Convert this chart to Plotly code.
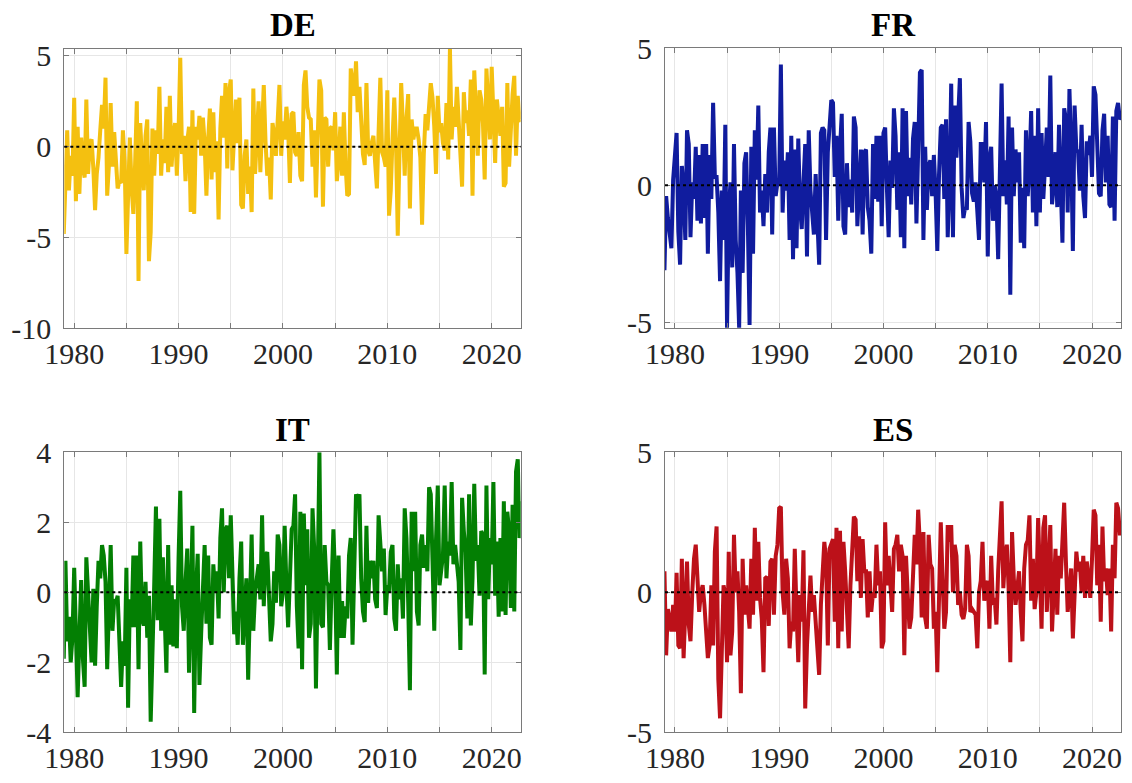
import pandas as pd
import plotly.graph_objects as go
from plotly.subplots import make_subplots

# bimonthly observation dates, Jan 1979 .. Nov 2022
dates = pd.date_range("1979-01-01", periods=264, freq="2MS")

de_values = [
    -4.8, -1.0, 0.9, -2.4, -0.5, -1.6, 2.7, -3.0, 1.1, -2.6,
    0.5, -1.2, -1.7, 2.6, -1.5, 0.2, 0.4, -1.2, -3.5, -1.5,
    -0.6, 0.9, 2.3, 1.0, 3.8, -2.7, -1.0, 2.4, -1.1, 0.8,
    -1.0, -2.3, -1.9, -2.0, 0.9, -0.8, -5.9, -1.5, 0.5, -2.2,
    -3.7, -1.0, 2.5, -7.4, 1.3, -0.8, -2.4, 0.6, 1.5, -6.3,
    -4.7, 1.0, -1.6, 0.9, -0.4, 3.3, -1.6, 0.4, -0.9, 2.2,
    -1.4, 2.8, -1.1, 0.6, 1.3, -1.6, 0.9, 4.9, -0.4, 0.6,
    -1.9, 0.3, 1.1, -3.6, 2.0, -3.7, 1.1, 0.4, 1.7, -0.5,
    1.6, 0.2, -2.7, 0.4, 2.1, -1.8, 1.9, -1.4, 0.3, -4.0,
    1.0, 2.8, 0.5, 3.5, -1.2, 3.0, 3.7, -1.3, 0.8, 2.6,
    0.2, 2.7, -3.2, -3.4, -0.5, 0.4, -2.6, -1.1, -3.6, 3.2,
    -1.5, 0.9, 2.5, -1.4, 1.6, 3.4, 0.3, -1.6, -0.6, -2.9,
    1.3, 0.7, -0.5, 1.1, 3.4, -0.5, 1.4, 0.4, 2.2, 1.0,
    -2.0, 1.8, 1.9, -0.3, -0.5, 0.8, -1.6, -1.9, 3.4, 4.2,
    2.2, 1.6, 1.5, -1.1, 0.9, -2.8, 0.7, 3.7, 3.1, -3.3,
    1.6, 1.5, -1.1, 1.0, 1.1, -0.2, 1.9, -1.9, -0.8, 1.1,
    -1.6, 1.9, -1.0, -2.7, -2.6, 4.3, 3.5, 2.8, 4.7, 1.9,
    3.3, 1.0, -0.4, -1.0, 3.5, -0.2, -0.5, 0.2, 0.6, -0.9,
    -2.3, 0.8, 3.8, -0.3, -0.6, -1.1, 3.1, -3.8, -2.4, 0.4,
    2.7, 0.2, -4.9, -0.5, 3.5, 1.1, -1.6, 1.5, 2.9, -3.4,
    1.5, 0.4, 1.0, 1.0, 0.4, -0.6, -4.3, -0.4, 1.8, 0.9,
    2.0, 3.5, 2.7, 1.1, -1.5, 2.8, 0.8, 1.3, 0.2, -0.2,
    2.4, -0.7, 5.4, 0.4, 2.2, 1.1, 3.3, 1.1, -0.8, -2.2,
    3.0, 1.3, 2.0, 0.6, 3.7, -2.7, 4.2, 1.1, -0.5, 3.1,
    2.6, 1.3, -1.8, 4.3, 1.7, 0.4, 4.4, 1.7, -0.9, 2.6,
    1.3, 0.6, 2.2, -2.2, -2.0, 3.5, -1.1, 1.3, 2.9, 3.9,
    -0.5, 2.8, 1.5, 1.4,
]

fr_values = [
    -3.1, -0.4, -1.2, -1.8, -2.3, 0.2, 1.4, 1.9, -1.7, -2.9,
    0.7, -0.2, -2.0, 2.0, 1.5, -1.9, 0.1, -0.5, 1.4, -1.3,
    1.1, -1.4, 1.5, -1.2, 1.5, -2.5, 1.1, -0.5, 3.0, 0.3,
    0.3, -1.0, -3.5, -0.2, -2.0, 2.2, -5.2, -1.0, 0.1, -3.0,
    1.5, -2.0, -3.2, -5.2, -0.2, -3.2, 0.8, 1.2, -1.5, -5.1,
    1.4, -2.5, 2.0, 0.2, 2.9, -1.0, -0.2, -1.5, 0.4, -1.0,
    1.2, 2.1, -1.8, 2.1, -0.4, 0.1, 0.0, 4.4, -1.0, 0.9,
    -0.2, 1.2, -2.0, 1.8, -2.7, 1.3, -2.3, 1.7, -0.8, -1.6,
    0.1, 1.5, -2.6, 2.0, -0.2, -1.0, -1.8, 0.4, -1.3, -2.9,
    1.9, 2.1, 2.0, -2.0, 1.2, 2.2, 3.1, 3.0, 0.3, 1.8,
    -1.3, 1.3, 2.6, -1.5, -1.8, 0.8, -0.8, 0.2, -1.0, 2.5,
    2.1, -1.5, -0.2, 1.3, -1.8, 1.2,
    1.3, -0.8, -1.3, -2.5, 1.5, -0.5, 1.8, -0.6, 1.8, -1.5,
    1.9, 2.1, -0.1, -1.9, 0.9, -0.1, 2.8, 1.8, -0.9, 1.2,
    -1.9, 2.8, -2.3, 2.7, -0.4, 1.0, -0.7, 1.7, 2.3, -1.4,
    1.3, 4.1, 4.2, -2.0, 1.4, -0.9, 0.7, 0.9, -0.4, 1.1,
    -0.3, -2.4, 0.4, 2.1, 2.2, -0.5, 2.4, -1.9, 0.0, 3.7,
    -1.9, 2.9, 1.0, 2.7, 3.9, -0.1, -1.2, -0.8, -0.9, 2.3,
    1.6, -0.3, -0.6, 0.1, -0.8, -2.0, 1.5, 1.5, 0.1, 2.3,
    -2.6, 0.9, 1.4, -1.3, 0.0, -0.5, -2.7, 1.2, 3.7, -0.4,
    0.9, -0.7, 2.5, -4.0, 2.1, -0.4, 1.3, 0.1, 1.2, -2.1,
    -0.1, -2.3, 2.0, -0.4, 0.7, 2.7, -1.0, 1.8, -1.5, 2.8,
    -1.0, 1.9, -0.5, 0.7, 2.1, 0.3, 4.0, -0.7, 0.0, 1.2,
    -0.8, 2.2, -0.1, -2.1, 2.8, 2.4, -1.0, 3.5, 1.3, -2.4,
    2.9, 1.3, 1.2, -0.2, 2.2, -0.4, -1.2, 1.6, 1.1, 1.8,
    0.3, 3.6, 3.3, 0.8, -0.3, -0.4, 2.0, 2.6, 0.1, 1.8,
    -0.7, -0.8, 2.5, -1.3, 2.7, 3.0, 2.4, 2.5,
]

it_values = [
    -1.9, 0.9, -1.4, -0.7, -2.0, -1.3, 0.7, -1.5, -3.0, -1.3,
    0.35, -1.9, -2.7, 1.0, -0.2, -1.1, -2.0, 0.1, -2.1, -0.4,
    0.9, 0.4, 1.35, 1.05, 0.3, -2.2, 0.2, 1.35, -1.1, -0.2,
    -0.3, -0.1, -1.4, -2.7, -1.4, -2.1, 0.7, -3.3, -0.2, -1.0,
    1.05, -1.0, 1.05, -2.2, 1.45, -0.75, -0.95, 0.3, -1.3, -0.1,
    -3.7, -1.1, 0.2, 2.45, -0.8, 2.1, -1.1, 1.0, -1.3, -2.3,
    1.35, -1.5, 0.2, -1.55, -0.2, -1.6, 1.0, 2.9, -0.4, -1.1,
    0.3, 1.25, -2.3, -0.1, 1.9, -3.45, 0.0, 1.1, -2.65, -1.2,
    0.3, 1.35, -0.9, 1.05, -1.3, -1.5, 0.8, 0.0, 0.6, -0.75,
    1.55, 2.4, 0.0, 1.8, 1.9, 0.4, 2.2, 0.2, -1.2, -0.55,
    -1.5, 0.4, 1.45, -1.5, -0.75, 0.4, -2.5, 0.0, 1.65, -1.1,
    0.0, 0.4, 0.8, -0.2, 2.2, -0.4, 1.05, 1.15, -0.2, -1.4,
    -0.9, 0.6, -0.3, 1.65, 1.35, -0.4, 0.0, 1.9, 0.2, -1.0,
    0.4, 1.8, 1.9, 2.8, -0.4, -1.6, 2.3, -2.2, 2.25, 0.2,
    1.8, -1.3, -0.9, 2.4, 1.2, -2.75, 0.4, 4.0, -0.9, -1.0,
    1.35, 0.3, 0.2, -1.65, 0.3, 1.8, 0.4, -2.35, 1.05, -1.3,
    -0.25, -1.3, -0.4, -0.75, 1.05, 1.55, -1.5, 1.35, 2.8, 2.6,
    2.8, 0.4, -0.55, -0.85, 1.9, -0.3, 0.9, 0.4, 0.9, -0.2,
    -0.45, 2.2, 1.15, 0.6, 1.25, -0.65, 0.2, 0.0, 1.15, 1.35,
    -0.75, -1.1, 0.8, -0.2, 0.4, -0.75, 2.4, 1.55, -0.3, -2.8,
    2.3, 0.6, 2.3, -0.55, -0.95, 1.35, 1.65, 0.7, 1.35, 0.6,
    3.0, 2.8, 0.9, -1.1, 1.5, 3.05, 0.2, 0.6, 1.05, 3.05,
    0.4, 1.45, 1.05, 3.15, 0.8, 1.35, 0.9, 0.3, -1.65, 2.7,
    1.75, 1.15, -0.75, 2.8, -0.95, 0.4, 3.1, 0.9, 1.35, -0.1,
    1.75, 1.65, -2.35, 3.05, -0.2, 1.55, 0.8, 3.15, -0.1, 1.45,
    -0.7, 1.55, -0.55, 2.6, -0.65, 2.3, 1.75, -0.45, 2.5, -0.55,
    3.45, 3.8, 1.55, 2.6,
]

es_values = [
    0.75, -2.25, -0.6, -1.05, -1.4, -0.45, -1.4, 0.7, -1.9, -2.0,
    1.2, -2.35, -0.7, 1.1, -1.15, -1.75, 0.0, 1.2, 1.7, 0.5,
    -0.7, 0.0, 0.25, -0.45, -1.4, -2.35, -1.9, 0.25, -1.9, 1.45,
    2.35, -3.1, -4.5, -1.9, 0.25, -0.1, -2.5, 1.45, -2.25, -1.4,
    2.05, 0.0, 0.75, -0.7, -3.6, 1.2, -0.8, 0.25, -0.5, -1.3,
    1.2, -0.8, 2.3, -0.3, 1.8, -0.2, -0.95, -2.85, 0.5, 0.55,
    -1.2, 1.1, 1.2, -0.8, 1.3, 1.7, 3.0, 3.05, 0.0, -0.8,
    1.2, 0.5, -2.0, -1.05, -1.4, 1.55, -0.7, -2.5, -0.1, -1.05,
    1.5, -4.15, -1.9, -0.45, 0.6, -0.7, -0.1, -1.05, -1.9, -2.95,
    -0.45, 0.5, 1.8, 1.2, -1.9, 1.55, 1.8, 1.9, -1.05, 2.3,
    -2.0, 2.2, -1.4, 1.8, 0.75, -0.7, -2.0, 0.25, 1.3, 2.7,
    2.6, 0.4, 2.0, -0.2, 1.9, 0.75,
    0.75, -0.9, 0.75, -0.7, 0.0, -0.2, 1.7, 0.25, 0.75, -2.0,
    -1.75, 2.5, 0.25, 1.3, 0.25, -0.7, 1.55, 1.7, 2.05, 0.75,
    1.7, 1.3, -2.25, 1.3, -0.1, -1.3, -0.9, 0.85, 2.05, 1.0,
    2.95, 1.7, -0.9, 2.15, -0.9, -1.3, 2.05, 1.0, 0.85, -1.3,
    -0.7, -2.85, 0.6, 2.5, 0.5, -1.3, -0.7, 2.4, 1.8, 2.4,
    0.0, 1.7, 1.3, -0.45, 0.0, -0.8, -0.95, -0.6, 1.7, 1.3,
    -0.7, -0.6, -0.7, -0.8, -2.0, 0.0, 0.4, 1.8, -0.3, 0.25,
    0.4, -1.3, 1.3, -0.45, -0.2, -1.15, 0.75, 1.7, 3.25, 0.15,
    1.3, 1.7, 0.15, -2.5, 2.15, 0.5, -0.45, 0.15, 0.75, -0.7,
    -1.75, 0.85, 1.7, 1.85, 2.75, -0.3, 1.2, -0.6, 0.0, 2.65,
    0.5, -1.3, 2.3, 2.75, -0.7, 0.75, 2.4, -1.4, 0.15, 1.55,
    -0.8, 1.3, 0.5, 2.3, 3.2, 1.1, -0.7, 0.0, 0.85, -1.65,
    -0.1, 1.45, 0.75, 1.1, 0.0, 1.3, -0.2, 1.1, 0.5, -0.2,
    1.2, 2.95, 2.75, 0.25, 1.7, -1.05, 2.35, 0.4, 0.85, -0.1,
    0.85, -1.4, 1.7, 0.5, 3.2, 3.0, 2.1, 2.1,
]

panel_names = ["DE", "FR", "IT", "ES"]
panel_colors = ["#F4C010", "#101C9E", "#037F03", "#BC1119"]
panel_values = [de_values, fr_values, it_values, es_values]
y_ranges = [[-10, 5.38], [-5.22, 5.0], [-4, 4], [-5, 5]]
y_ticks = [[-10, -5, 0, 5], [-5, 0, 5], [-4, -2, 0, 2, 4], [-5, 0, 5]]

x_tick_years = [1980, 1985, 1990, 1995, 2000, 2005, 2010, 2015, 2020]
x_tick_vals = [f"{y}-01-01" for y in x_tick_years]
x_tick_text = [str(y) if y % 10 == 0 else "" for y in x_tick_years]
x_range = ["1979-01-20", "2022-10-12"]

# the page body adds an 8px margin, so the figure is drawn 8px in from the window corner
PAD = 8
W, H = 1132 - 2 * PAD, 783 - 2 * PAD
# pixel boxes of each panel in window coordinates: (left, right, top, bottom)
boxes = [(64.3, 520.7, 49, 328.3), (665, 1121, 48, 328.3),
         (64.3, 520.7, 452.3, 732.3), (665, 1121, 452.3, 732.3)]
title_y = [25, 25, 430, 430]

fig = make_subplots(rows=2, cols=2)
font_family = "Liberation Serif, Times New Roman, serif"

for k in range(4):
    r, c = k // 2 + 1, k % 2 + 1
    fig.add_trace(go.Scatter(x=dates, y=panel_values[k], mode="lines",
                             line=dict(color=panel_colors[k], width=4),
                             showlegend=False), row=r, col=c)
    fig.add_hline(y=0, line=dict(color="black", dash="dot", width=2), row=r, col=c)
    l, rr, t, b = [v - PAD for v in boxes[k]]
    fig.update_xaxes(domain=[l / W, rr / W], range=x_range, type="date",
                     automargin=False, ticklabeloverflow="allow",
                     tickvals=x_tick_vals, ticktext=x_tick_text,
                     showgrid=True, gridcolor="#e6e6e6", gridwidth=1,
                     showline=True, linecolor="#7a7a7a", linewidth=1, mirror="ticks",
                     ticks="inside", ticklen=5, tickcolor="#7a7a7a",
                     tickfont=dict(family=font_family, size=30, color="#262626"),
                     ticklabelstandoff=-1, zeroline=False, row=r, col=c)
    fig.update_yaxes(domain=[1 - b / H, 1 - t / H], range=y_ranges[k],
                     automargin=False, ticklabeloverflow="allow",
                     tickvals=y_ticks[k], ticktext=[str(v) for v in y_ticks[k]],
                     showgrid=True, gridcolor="#e6e6e6", gridwidth=1,
                     showline=True, linecolor="#7a7a7a", linewidth=1, mirror="ticks",
                     ticks="inside", ticklen=5, tickcolor="#7a7a7a",
                     tickfont=dict(family=font_family, size=30, color="#262626"),
                     ticklabelstandoff=6, zeroline=False, row=r, col=c)
    fig.add_annotation(text=f"<b>{panel_names[k]}</b>", xref="paper", yref="paper",
                       x=(l + rr) / 2 / W, y=1 - (title_y[k] - PAD) / H,
                       xanchor="center", yanchor="middle", showarrow=False,
                       font=dict(family=font_family, size=33, color="black"))

fig.update_layout(width=W, height=H, margin=dict(l=0, r=0, t=0, b=0),
                  paper_bgcolor="white", plot_bgcolor="white")

fig.write_html("out.html")
